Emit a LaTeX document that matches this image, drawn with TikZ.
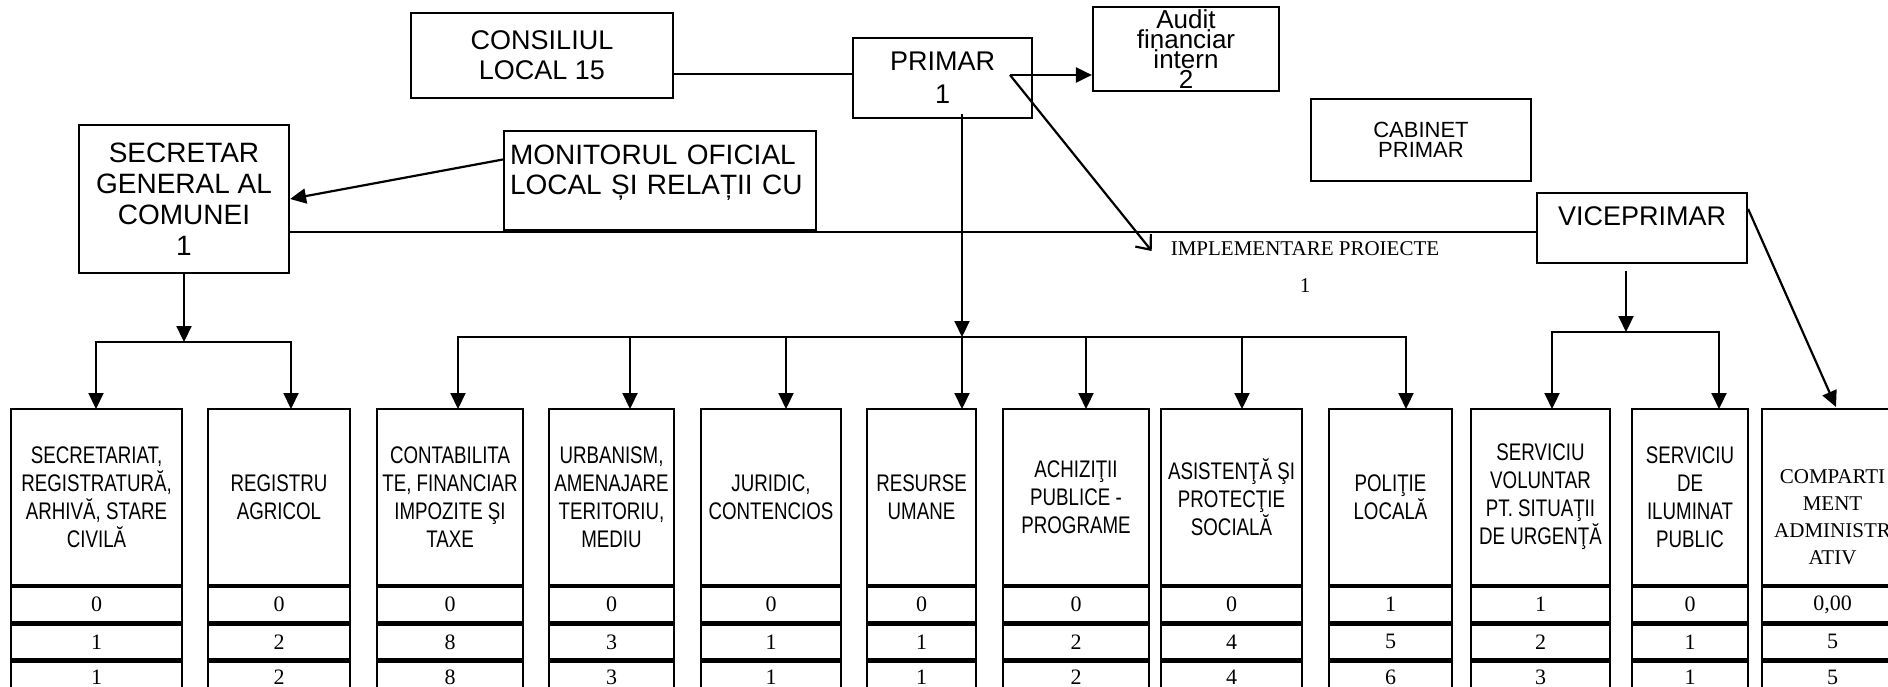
\documentclass[tikz,border=0pt]{standalone}
\usepackage{fontspec}
\usetikzlibrary{arrows.meta}
\newfontfamily\arialf{Liberation Sans}
\newfontfamily\narrowf[FakeStretch=0.78]{Liberation Sans}
\newfontfamily\timesf{Liberation Serif}

\begin{document}
\begin{tikzpicture}[x=1pt, y=-1pt, line width=2.2pt,
  >={Triangle[length=16pt,width=15pt]},
  topbox/.style={draw, inner sep=0pt, align=center,
    font=\arialf\fontsize{27}{30}\selectfont},
  dept/.style={draw, inner sep=0pt, align=center, minimum height=176pt,
    font=\narrowf\fontsize{24}{28}\selectfont},
  cell/.style={draw, inner sep=0pt, minimum height=35pt, anchor=north,
    font=\timesf\fontsize{22}{24}\selectfont}]
  \useasboundingbox (0,0) rectangle (1888,687);
  % Top boxes
  \node[topbox, minimum width=262pt, minimum height=85pt] (cons) at (542,55.5) {CONSILIUL\\LOCAL 15};
  \node[topbox, minimum width=179pt, minimum height=80pt, font=\arialf\fontsize{27}{33}\selectfont] (primar) at (942.5,78) {PRIMAR\\1};
  \node[topbox, minimum width=186pt, minimum height=84pt, font=\arialf\fontsize{26}{17.5}\selectfont] (audit) at (1186,49) {Audit\\financiar\\intern\\2};
  \node[topbox, minimum width=220pt, minimum height=82pt, font=\arialf\fontsize{22}{20}\selectfont] (cab) at (1421,140) {CABINET\\PRIMAR};
  \node[topbox, minimum width=210pt, minimum height=148pt, font=\arialf\fontsize{28}{31}\selectfont] (sec) at (184,199) {SECRETAR\\GENERAL AL\\COMUNEI\\1};
  \node[topbox, minimum width=312pt, minimum height=99pt, align=left, text width=300pt, font=\arialf\fontsize{28}{30}\selectfont] (mon) at (660,180.5) {MONITORUL OFICIAL\\LOCAL ȘI RELAȚII CU\\[-9pt]\mbox{}};
  \node[topbox, minimum width=210pt, minimum height=70pt, font=\arialf\fontsize{27}{24}\selectfont] (vice) at (1642,228) {VICEPRIMAR\\\mbox{}};
  \node[align=center, inner sep=0pt, font=\timesf\fontsize{21}{37}\selectfont] (impl) at (1305,267) {IMPLEMENTARE PROIECTE\\1};

  \coordinate (pout) at (1010,75);
  \coordinate (hl) at (0,232);
  \coordinate (sbus) at (184,342);
  \coordinate (pbus) at (962,337);
  \coordinate (vbus) at (1626,332);

  \draw ([yshift=4pt]primar.west) -- ([yshift=4pt]primar.west -| cons.east);
  \draw[->] (pout) -- (pout -| audit.west);
  \draw[-{Straight Barb[length=12pt,width=20pt]}] (pout) -- ([xshift=-18pt,yshift=16pt]impl.west);
  \draw[->] ([yshift=21pt]mon.west) -- (sec.east);
  \draw (sec.east |- hl) -- (vice.west |- hl);
  \draw[->] (sec.south) -- (sbus);
  \draw[->] (primar.south -| pbus) ++(0,-5) -- (pbus);
  \draw[->] (vice.south -| vbus) ++(0,7) -- (vbus);

  % Departments
  \foreach \n/\xl/\xr/\ax/\bus/\t/\ra/\rb/\rc in {
    secr/11/182/96/sbus/{SECRETARIAT,\\REGISTRATURĂ,\\ARHIVĂ, STARE\\CIVILĂ}/0/1/1,
    regag/208/350/291/sbus/{REGISTRU\\AGRICOL}/0/2/2,
    cont/377/523/458/pbus/{CONTABILITA\\TE, FINANCIAR\\IMPOZITE ŞI\\TAXE}/0/8/8,
    urb/549/674/630/pbus/{URBANISM,\\AMENAJARE\\TERITORIU,\\MEDIU}/0/3/3,
    jur/701/841/786/pbus/{JURIDIC,\\CONTENCIOS}/0/1/1,
    rum/867/976/962/pbus/{RESURSE\\UMANE}/0/1/1,
    ach/1003/1149/1086/pbus/{ACHIZIŢII\\PUBLICE -\\PROGRAME}/0/2/2,
    asis/1161/1302/1242/pbus/{ASISTENŢĂ ŞI\\PROTECŢIE\\SOCIALĂ}/0/4/4,
    pol/1329/1452/1406/pbus/{POLIŢIE\\LOCALĂ}/1/5/6,
    svsu/1471/1610/1552/vbus/{SERVICIU\\VOLUNTAR\\PT. SITUAŢII\\DE URGENŢĂ}/1/2/3,
    silum/1632/1748/1719/vbus/{SERVICIU\\DE\\ILUMINAT\\PUBLIC}/0/1/1}
  {
    \node[dept, minimum width={(\xr-\xl)*1pt}] (\n) at ({(\xl+\xr)/2},497) {\t};
    \node[cell, minimum width={(\xr-\xl)*1pt}] (\n-a) at (\n.south) {\ra};
    \node[cell, minimum width={(\xr-\xl)*1pt}] (\n-b) at (\n-a.south) {\rb};
    \node[cell, minimum width={(\xr-\xl)*1pt}, minimum height=31pt] (\n-c) at (\n-b.south) {\rc};
    \coordinate (\n-in) at (\ax,409);
    \draw[->] (\bus) -| (\n-in);
  }

  % Compartiment administrativ
  \node[dept, minimum width=141pt] (comp) at (1832.5,497) {};
  \node[align=center, anchor=south, inner sep=0pt, font=\timesf\fontsize{21}{27}\selectfont] (comp-t) at ([yshift=20pt]comp.south) {COMPARTI\\MENT\\ADMINISTR\\ATIV};
  \node[cell, minimum width=141pt] (comp-a) at (comp.south) {0,00};
  \node[cell, minimum width=141pt] (comp-b) at (comp-a.south) {5};
  \node[cell, minimum width=141pt, minimum height=31pt] (comp-c) at (comp-b.south) {5};
  \coordinate (comp-in) at (1836,407);
  \draw[->] ([yshift=-17pt]vice.north east) -- (comp-in);
\end{tikzpicture}
\end{document}
